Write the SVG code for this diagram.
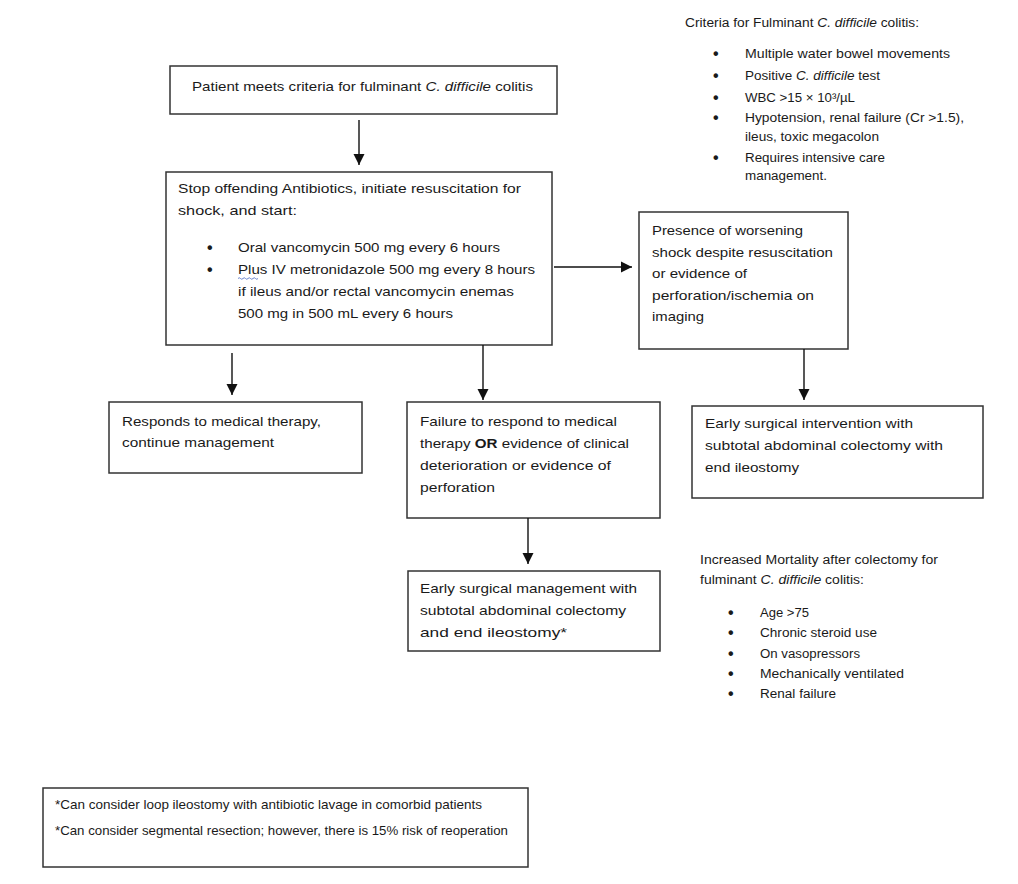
<svg xmlns="http://www.w3.org/2000/svg" width="1018" height="884" viewBox="0 0 1018 884">
<style>
text{font-family:"Liberation Sans",Arial,sans-serif;fill:#1a1a1a}
.m{font-size:13.5px}
.s{font-size:12px}
.f{font-size:13px}
.bl{font-size:16px;font-weight:bold}
.box{fill:#fff;stroke:#333;stroke-width:1.5}
.con{stroke:#111;stroke-width:1.4;fill:none}
.i{font-style:italic}
.b{font-weight:bold}
</style>
<defs>
<marker id="ah" markerUnits="userSpaceOnUse" markerWidth="12" markerHeight="12" refX="11" refY="6" orient="auto">
<path d="M0,0.5 L11,6 L0,11.5 z" fill="#111"/>
</marker>
</defs>
<rect width="1018" height="884" fill="#fff"/>

<g id="criteria">
<text class="s" x="685" y="27" textLength="234" lengthAdjust="spacingAndGlyphs">Criteria for Fulminant <tspan class="i">C. difficile</tspan> colitis:</text>
<text class="bl" x="713" y="59">•</text><text class="s" x="745" y="58" textLength="205" lengthAdjust="spacingAndGlyphs">Multiple water bowel movements</text>
<text class="bl" x="713" y="81">•</text><text class="s" x="745" y="80" textLength="135" lengthAdjust="spacingAndGlyphs">Positive <tspan class="i">C. difficile</tspan> test</text>
<text class="bl" x="713" y="103">•</text><text class="s" x="745" y="102" textLength="110" lengthAdjust="spacingAndGlyphs">WBC &gt;15 × 10³/µL</text>
<text class="bl" x="713" y="123">•</text><text class="s" x="745" y="122" textLength="219" lengthAdjust="spacingAndGlyphs">Hypotension, renal failure (Cr &gt;1.5),</text>
<text class="s" x="745" y="141" textLength="134" lengthAdjust="spacingAndGlyphs">ileus, toxic megacolon</text>
<text class="bl" x="713" y="163">•</text><text class="s" x="745" y="162" textLength="140" lengthAdjust="spacingAndGlyphs">Requires intensive care</text>
<text class="s" x="745" y="180" textLength="82" lengthAdjust="spacingAndGlyphs">management.</text>
</g>

<g id="n1">
<rect class="box" x="170" y="66" width="387" height="48"/>
<text class="m" x="192" y="91" textLength="341" lengthAdjust="spacingAndGlyphs">Patient meets criteria for fulminant <tspan class="i">C. difficile</tspan> colitis</text>
</g>

<g id="n2">
<rect class="box" x="166" y="172" width="386" height="173"/>
<text class="m" x="178" y="193" textLength="343" lengthAdjust="spacingAndGlyphs">Stop offending Antibiotics, initiate resuscitation for</text>
<text class="m" x="178" y="215" textLength="119" lengthAdjust="spacingAndGlyphs">shock, and start:</text>
<text class="bl" x="207" y="253">•</text>
<text class="m" x="238" y="252" textLength="262" lengthAdjust="spacingAndGlyphs">Oral vancomycin 500 mg every 6 hours</text>
<text class="bl" x="207" y="275">•</text>
<text class="m" x="238" y="274" textLength="297" lengthAdjust="spacingAndGlyphs">Plus IV metronidazole 500 mg every 8 hours</text>
<path d="M238,278.5 q1.25,-1.5 2.5,0 t2.5,0 t2.5,0 t2.5,0 t2.5,0 t2.5,0 t2.5,0 t2.5,0" fill="none" stroke="#5a78c8" stroke-width="0.9"/>
<text class="m" x="238" y="296" textLength="276" lengthAdjust="spacingAndGlyphs">if ileus and/or rectal vancomycin enemas</text>
<text class="m" x="238" y="318" textLength="215" lengthAdjust="spacingAndGlyphs">500 mg in 500 mL every 6 hours</text>
</g>

<g id="n3">
<rect class="box" x="639" y="212" width="209" height="137"/>
<text class="m" x="652" y="235" textLength="151" lengthAdjust="spacingAndGlyphs">Presence of worsening</text>
<text class="m" x="652" y="257" textLength="181" lengthAdjust="spacingAndGlyphs">shock despite resuscitation</text>
<text class="m" x="652" y="278" textLength="95" lengthAdjust="spacingAndGlyphs">or evidence of</text>
<text class="m" x="652" y="300" textLength="162" lengthAdjust="spacingAndGlyphs">perforation/ischemia on</text>
<text class="m" x="652" y="321" textLength="52" lengthAdjust="spacingAndGlyphs">imaging</text>
</g>

<g id="n4">
<rect class="box" x="109" y="402" width="253" height="71"/>
<text class="m" x="122" y="426" textLength="199" lengthAdjust="spacingAndGlyphs">Responds to medical therapy,</text>
<text class="m" x="122" y="447" textLength="152" lengthAdjust="spacingAndGlyphs">continue management</text>
</g>

<g id="n5">
<rect class="box" x="407" y="402" width="253" height="116"/>
<text class="m" x="420" y="426" textLength="197" lengthAdjust="spacingAndGlyphs">Failure to respond to medical</text>
<text class="m" x="420" y="448" textLength="209" lengthAdjust="spacingAndGlyphs">therapy <tspan class="b">OR</tspan> evidence of clinical</text>
<text class="m" x="420" y="470" textLength="191" lengthAdjust="spacingAndGlyphs">deterioration or evidence of</text>
<text class="m" x="420" y="492" textLength="75" lengthAdjust="spacingAndGlyphs">perforation</text>
</g>

<g id="n6">
<rect class="box" x="692" y="406" width="291" height="92"/>
<text class="m" x="705" y="428" textLength="208" lengthAdjust="spacingAndGlyphs">Early surgical intervention with</text>
<text class="m" x="705" y="450" textLength="238" lengthAdjust="spacingAndGlyphs">subtotal abdominal colectomy with</text>
<text class="m" x="705" y="472" textLength="94" lengthAdjust="spacingAndGlyphs">end ileostomy</text>
</g>

<g id="n7">
<rect class="box" x="408" y="571" width="252" height="80"/>
<text class="m" x="420" y="593" textLength="217" lengthAdjust="spacingAndGlyphs">Early surgical management with</text>
<text class="m" x="420" y="615" textLength="206" lengthAdjust="spacingAndGlyphs">subtotal abdominal colectomy</text>
<text class="m" x="420" y="637" textLength="147" lengthAdjust="spacingAndGlyphs">and end ileostomy*</text>
</g>

<g id="mortality">
<text class="s" x="700" y="564" textLength="238" lengthAdjust="spacingAndGlyphs">Increased Mortality after colectomy for</text>
<text class="s" x="700" y="584" textLength="164" lengthAdjust="spacingAndGlyphs">fulminant <tspan class="i">C. difficile</tspan> colitis:</text>
<text class="bl" x="728" y="618">•</text><text class="s" x="760" y="617" textLength="49" lengthAdjust="spacingAndGlyphs">Age &gt;75</text>
<text class="bl" x="728" y="638">•</text><text class="s" x="760" y="637" textLength="117" lengthAdjust="spacingAndGlyphs">Chronic steroid use</text>
<text class="bl" x="728" y="659">•</text><text class="s" x="760" y="658" textLength="100" lengthAdjust="spacingAndGlyphs">On vasopressors</text>
<text class="bl" x="728" y="679">•</text><text class="s" x="760" y="678" textLength="144" lengthAdjust="spacingAndGlyphs">Mechanically ventilated</text>
<text class="bl" x="728" y="699">•</text><text class="s" x="760" y="698" textLength="76" lengthAdjust="spacingAndGlyphs">Renal failure</text>
</g>

<g id="footnote">
<rect class="box" x="43" y="788" width="485" height="79"/>
<text class="f" x="55" y="809" textLength="427" lengthAdjust="spacingAndGlyphs">*Can consider loop ileostomy with antibiotic lavage in comorbid patients</text>
<text class="f" x="55" y="835" textLength="453" lengthAdjust="spacingAndGlyphs">*Can consider segmental resection; however, there is 15% risk of reoperation</text>
</g>

<g id="connectors">
<line class="con" x1="359" y1="120" x2="359" y2="165" marker-end="url(#ah)"/>
<line class="con" x1="554" y1="267" x2="632" y2="267" marker-end="url(#ah)"/>
<line class="con" x1="232" y1="353" x2="232" y2="395" marker-end="url(#ah)"/>
<line class="con" x1="483" y1="345" x2="483" y2="400" marker-end="url(#ah)"/>
<line class="con" x1="804" y1="349" x2="804" y2="400" marker-end="url(#ah)"/>
<line class="con" x1="528" y1="518" x2="528" y2="564" marker-end="url(#ah)"/>
</g>
</svg>
